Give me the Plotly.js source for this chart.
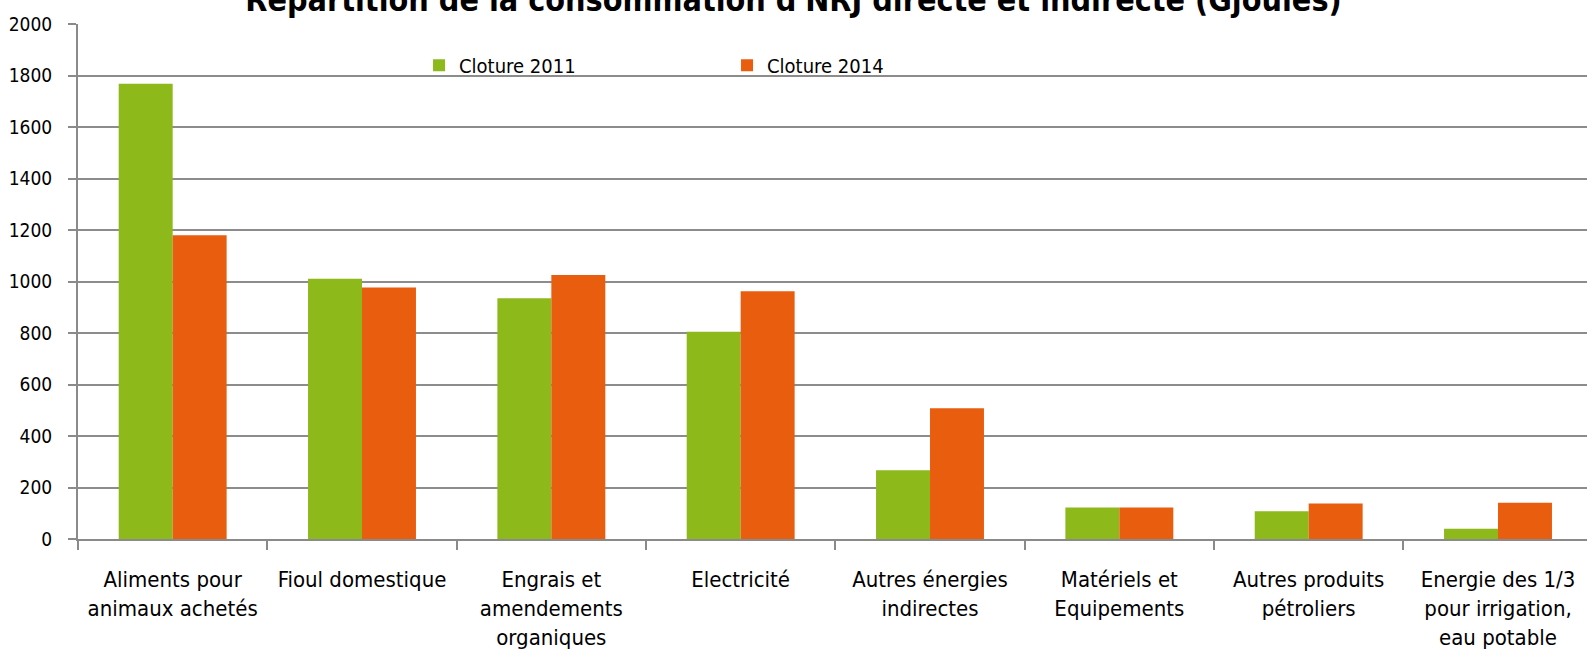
<!DOCTYPE html>
<html>
<head>
<meta charset="utf-8">
<script src="https://cdn.plot.ly/plotly-3.0.1.min.js"></script>
<style>html,body{margin:0;padding:0;background:#fff;}#chart{width:1587px;height:670px;}</style>
</head>
<body>
<div id="chart"></div>
<script>
const categories = [
  "Aliments pour<br>animaux achetés",
  "Fioul domestique",
  "Engrais et<br>amendements<br>organiques",
  "Electricité",
  "Autres énergies<br>indirectes",
  "Matériels et<br>Equipements",
  "Autres produits<br>pétroliers",
  "Energie des 1/3<br>pour irrigation,<br>eau potable"
];
const cloture2011 = [1768, 1011, 935, 805, 267, 122, 108, 40];
const cloture2014 = [1180, 977, 1025, 962, 508, 122, 138, 141];
const yTicks = [0, 200, 400, 600, 800, 1000, 1200, 1400, 1600, 1800, 2000];

const FONT = "'Liberation Sans Narrow', 'DejaVu Sans Condensed', 'Arial Narrow', sans-serif";

const traces = [
  {type: 'bar', name: 'Cloture 2011', x: categories, y: cloture2011,
   marker: {color: '#8DB91B', line: {width: 0}}},
  {type: 'bar', name: 'Cloture 2014', x: categories, y: cloture2014,
   marker: {color: '#E95D0F', line: {width: 0}}}
];

const layout = {
  width: 1587, height: 670,
  margin: {l: 78, r: 0, t: 23.5, b: 130.5},
  paper_bgcolor: '#ffffff', plot_bgcolor: '#ffffff',
  font: {family: FONT, size: 21, color: '#000'},
  title: {
    text: "Répartition de la consommation d'NRJ directe et indirecte (Gjoules)",
    font: {family: FONT, size: 32, color: '#000', weight: 'bold'},
    xref: 'container', x: 0.5, xanchor: 'center',
    yref: 'container', y: 1.0, yanchor: 'middle'
  },
  barmode: 'group', bargap: 0.43, bargroupgap: 0,
  showlegend: true,
  legend: {
    orientation: 'h', x: 0.226, xanchor: 'left', y: 0.92, yanchor: 'middle',
    entrywidth: 263, entrywidthmode: 'pixels',
    font: {family: FONT, size: 20, color: '#000'},
    bgcolor: 'rgba(0,0,0,0)', traceorder: 'normal'
  },
  xaxis: {
    type: 'category', range: [-0.5, 7.47],
    showline: true, linecolor: '#8a8a8a', linewidth: 2,
    ticks: 'outside', tickson: 'boundaries', ticklen: 9, tickcolor: '#8a8a8a', tickwidth: 2,
    showgrid: false, tickangle: 0,
    tickfont: {family: FONT, size: 22, color: '#000'},
    ticklabelstandoff: 20,
    automargin: false
  },
  yaxis: {
    range: [0, 2000], tickvals: yTicks, ticktext: yTicks.map(String),
    showline: true, linecolor: '#8a8a8a', linewidth: 2,
    ticks: 'outside', ticklen: 8, tickcolor: '#8a8a8a', tickwidth: 2,
    showgrid: true, gridcolor: '#8c8c8c', gridwidth: 2,
    zeroline: false,
    tickfont: {family: FONT, size: 19, color: '#000'},
    ticklabelstandoff: 12,
    automargin: false
  }
};

Plotly.newPlot('chart', traces, layout, {displayModeBar: false, responsive: false});
</script>
</body>
</html>
